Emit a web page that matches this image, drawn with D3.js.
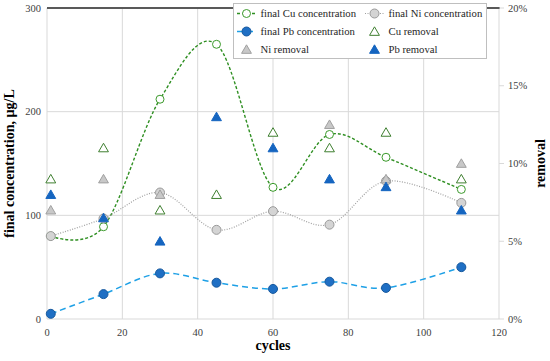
<!DOCTYPE html>
<html>
<head>
<meta charset="utf-8">
<script src="https://cdn.jsdelivr.net/npm/d3@7"></script>
<style>
  body { margin: 0; background: #fff; }
  svg text { font-family: "Liberation Serif", "Times New Roman", "DejaVu Serif", serif; }
</style>
</head>
<body>
<div id="chart"></div>
<script>
// values
const cycles     = [1, 15, 30, 45, 60, 75, 90, 110];
const cuConc     = [80, 89, 212, 265, 127, 178, 156, 125];
const niConc     = [80, 97, 122, 86, 104, 91, 133, 112];
const pbConc     = [5, 24, 44, 35, 29, 36, 30, 50];
const cuRemoval  = [0.09, 0.11, 0.07, 0.08, 0.12, 0.11, 0.12, 0.09];
const niRemoval  = [0.07, 0.09, 0.08, null, null, 0.125, 0.09, 0.10];
const pbRemoval  = [0.08, 0.065, 0.05, 0.13, 0.11, 0.09, 0.085, 0.07];

const xTicks = [0, 20, 40, 60, 80, 100, 120];
const yTicks = [0, 100, 200, 300];
const y2Ticks = [0, 0.05, 0.10, 0.15, 0.20];

const width = 550, height = 361;
const margin = {left: 47, right: 51, top: 8, bottom: 42};

const svg = d3.select("#chart").append("svg")
    .attr("width", width)
    .attr("height", height);

const x = d3.scaleLinear().domain([0, 120]).range([margin.left, width - margin.right]);
const y = d3.scaleLinear().domain([0, 300]).range([height - margin.bottom, margin.top]);
const y2 = d3.scaleLinear().domain([0, 0.20]).range([height - margin.bottom, margin.top]);

const grid = "#d9d9d9";

// gridlines
svg.append("g").selectAll("line.v").data(xTicks).enter().append("line")
    .attr("x1", d => x(d)).attr("x2", d => x(d))
    .attr("y1", y(0)).attr("y2", y(300))
    .attr("stroke", grid).attr("stroke-width", 1);
svg.append("g").selectAll("line.h").data(yTicks.slice(0, 3)).enter().append("line")
    .attr("x1", x(0)).attr("x2", x(120))
    .attr("y1", d => y(d)).attr("y2", d => y(d))
    .attr("stroke", grid).attr("stroke-width", 1);
// top border (dark)
svg.append("line")
    .attr("x1", x(0)).attr("x2", x(120) + 1)
    .attr("y1", y(300)).attr("y2", y(300))
    .attr("stroke", "#595959").attr("stroke-width", 2);

// left axis labels
svg.append("g").selectAll("text").data(yTicks).enter().append("text")
    .attr("x", x(0) - 6).attr("y", d => y(d)).attr("dy", "0.35em")
    .attr("text-anchor", "end").attr("font-size", 10.5).attr("fill", "#404040")
    .text(d => d);

// right axis ticks and labels
svg.append("g").selectAll("line").data(y2Ticks).enter().append("line")
    .attr("x1", x(120)).attr("x2", x(120) + 5)
    .attr("y1", d => y2(d)).attr("y2", d => y2(d))
    .attr("stroke", grid);
svg.append("g").selectAll("text").data(y2Ticks).enter().append("text")
    .attr("x", x(120) + 9).attr("y", d => y2(d)).attr("dy", "0.35em")
    .attr("font-size", 10.5).attr("fill", "#404040")
    .text(d => d3.format(".0%")(d));

// bottom labels
svg.append("g").selectAll("text").data(xTicks).enter().append("text")
    .attr("x", d => x(d)).attr("y", y(0) + 17)
    .attr("text-anchor", "middle").attr("font-size", 10.5).attr("fill", "#404040")
    .text(d => d);

// axis titles
svg.append("text")
    .attr("x", (x(0) + x(120)) / 2).attr("y", 350)
    .attr("text-anchor", "middle").attr("font-size", 14).attr("font-weight", "bold")
    .text("cycles");
svg.append("text")
    .attr("transform", "translate(14," + ((y(0) + y(300)) / 2) + ")rotate(-90)")
    .attr("text-anchor", "middle").attr("font-size", 14).attr("font-weight", "bold")
    .text("final concentration, µg/L");
svg.append("text")
    .attr("transform", "translate(545," + ((y(0) + y(300)) / 2) + ")rotate(-90)")
    .attr("text-anchor", "middle").attr("font-size", 14).attr("font-weight", "bold")
    .text("removal");

// styles
const cuLine = {stroke: "#2f8f22", width: 1.4, dash: "3,2"};
const niLine = {stroke: "#a0a0a0", width: 1.2, dash: "1,1.5"};
const pbLine = {stroke: "#1ea0e6", width: 1.5, dash: "6,4"};

const curve = d3.curveCardinal.tension(0);

function drawLine(vals, st) {
  const line = d3.line()
      .defined(d => d[1] != null)
      .x(d => x(d[0])).y(d => y(d[1]))
      .curve(curve);
  svg.append("path")
      .datum(cycles.map((c, i) => [c, vals[i]]))
      .attr("d", line)
      .attr("fill", "none")
      .attr("stroke", st.stroke)
      .attr("stroke-width", st.width)
      .attr("stroke-dasharray", st.dash);
}

drawLine(cuConc, cuLine);
drawLine(niConc, niLine);
drawLine(pbConc, pbLine);

function drawCircles(vals, fill, stroke, r) {
  svg.append("g").selectAll("circle")
      .data(cycles.map((c, i) => [c, vals[i]]).filter(d => d[1] != null))
      .enter().append("circle")
      .attr("cx", d => x(d[0])).attr("cy", d => y(d[1]))
      .attr("r", r)
      .attr("fill", fill).attr("stroke", stroke).attr("stroke-width", 1);
}

drawCircles(cuConc, "#ffffff", "#3c9a2c", 4);
drawCircles(niConc, "#d4d4d4", "#9a9a9a", 4.5);
drawCircles(pbConc, "#1f6fc4", "#17599e", 4.5);

const tri = d3.symbol().type(d3.symbolTriangle).size(42);

function drawTriangles(vals, fill, stroke) {
  svg.append("g").selectAll("path")
      .data(cycles.map((c, i) => [c, vals[i]]).filter(d => d[1] != null))
      .enter().append("path")
      .attr("d", tri)
      .attr("transform", d => "translate(" + x(d[0]) + "," + (y2(d[1]) + 1) + ")")
      .attr("fill", fill).attr("stroke", stroke).attr("stroke-width", 1);
}

drawTriangles(cuRemoval, "#ffffff", "#3f7f30");
drawTriangles(niRemoval, "#c8c8c8", "#a0a0a0");
drawTriangles(pbRemoval, "#1565c0", "#1565c0");

// legend
const legend = svg.append("g");
legend.append("rect")
    .attr("x", 233.5).attr("y", 3.5).attr("width", 253).attr("height", 55)
    .attr("fill", "#fff").attr("stroke", "#bfbfbf");

const items = [
  {label: "final Cu concentration", line: cuLine, marker: "circle", fill: "#fff", stroke: "#3c9a2c", r: 4},
  {label: "final Ni concentration", line: niLine, marker: "circle", fill: "#d4d4d4", stroke: "#9a9a9a", r: 4.5},
  {label: "final Pb concentration", line: pbLine, marker: "circle", fill: "#1f6fc4", stroke: "#17599e", r: 4.5},
  {label: "Cu removal", marker: "tri", fill: "#fff", stroke: "#3f7f30"},
  {label: "Ni removal", marker: "tri", fill: "#c8c8c8", stroke: "#a0a0a0"},
  {label: "Pb removal", marker: "tri", fill: "#1565c0", stroke: "#1565c0"}
];
const colX = [237, 365];
const rowY = [13.5, 31.5, 49.5];

items.forEach((it, i) => {
  const cx = colX[i % 2], cy = rowY[Math.floor(i / 2)];
  const g = legend.append("g").attr("transform", "translate(" + cx + "," + cy + ")");
  if (it.line) {
    g.append("line").attr("x1", 0).attr("x2", 19).attr("y1", 0).attr("y2", 0)
        .attr("stroke", it.line.stroke).attr("stroke-width", it.line.width)
        .attr("stroke-dasharray", it.line.dash);
  }
  if (it.marker === "circle") {
    g.append("circle").attr("cx", 9.5).attr("cy", 0).attr("r", it.r)
        .attr("fill", it.fill).attr("stroke", it.stroke);
  } else {
    g.append("path").attr("d", tri).attr("transform", "translate(9.5,1)")
        .attr("fill", it.fill).attr("stroke", it.stroke);
  }
  g.append("text").attr("x", 23.5).attr("y", 0).attr("dy", "0.35em")
      .attr("font-size", 10.7).attr("fill", "#262626")
      .text(it.label);
});
</script>
</body>
</html>
